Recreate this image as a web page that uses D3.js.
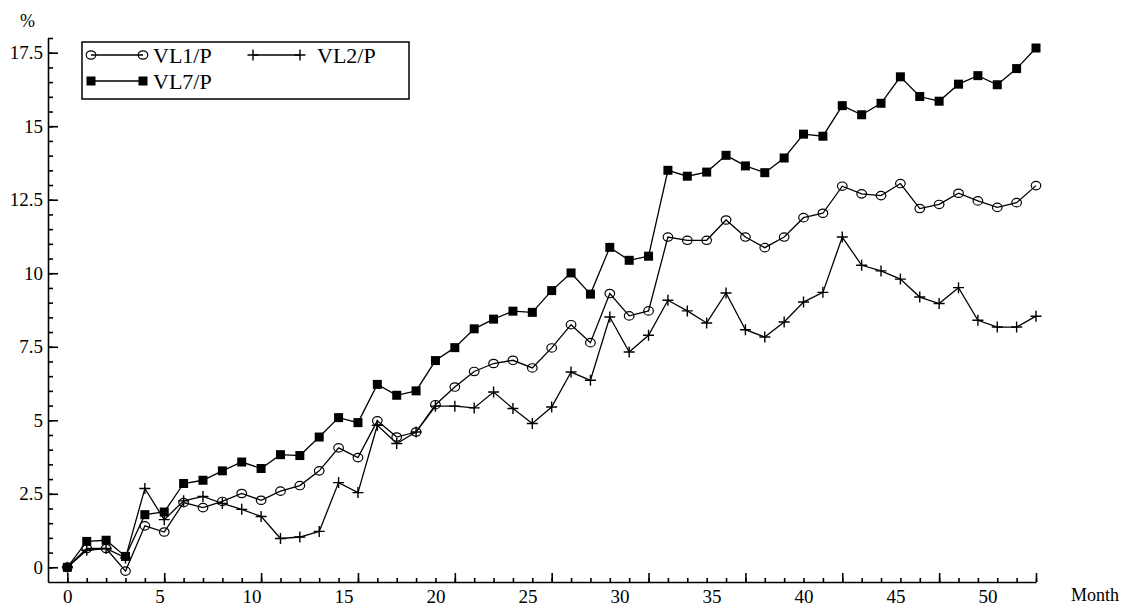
<!DOCTYPE html>
<html>
<head>
<meta charset="utf-8">
<script src="https://cdn.jsdelivr.net/npm/d3@7"></script>
<style>
  body { margin: 0; background: #fff; }
  text { font-family: "Liberation Serif", "Times New Roman", serif; }
</style>
</head>
<body>
<div id="chart"></div>
<script>
const monthLabels = [0, 5, 10, 15, 20, 25, 30, 35, 40, 45, 50];
const yTicks = [0, 2.5, 5, 7.5, 10, 12.5, 15, 17.5];
const lastMonth = 52.63; // month value at the last observation

const vl1 = [0, 0.64, 0.64, -0.13, 1.41, 1.20, 2.20, 2.03, 2.24, 2.51, 2.28, 2.59, 2.78, 3.28, 4.06, 3.73,
  4.98, 4.43, 4.60, 5.53, 6.13, 6.66, 6.93, 7.04, 6.78, 7.46, 8.25, 7.64, 9.31, 8.55, 8.72,
  11.23, 11.12, 11.12, 11.81, 11.23, 10.87, 11.23, 11.89, 12.04, 12.96, 12.70, 12.64, 13.05,
  12.20, 12.34, 12.72, 12.46, 12.24, 12.40, 12.98];
const vl2 = [0, 0.58, 0.64, 0.32, 2.68, 1.62, 2.26, 2.41, 2.17, 1.97, 1.73, 0.98, 1.03, 1.22, 2.88, 2.54,
  4.83, 4.21, 4.60, 5.48, 5.48, 5.42, 5.96, 5.40, 4.89, 5.45, 6.64, 6.36, 8.51, 7.32, 7.89,
  9.08, 8.72, 8.31, 9.33, 8.08, 7.83, 8.34, 9.02, 9.35, 11.23, 10.27, 10.08, 9.80,
  9.19, 8.97, 9.51, 8.40, 8.17, 8.17, 8.54];
const vl7 = [0, 0.88, 0.92, 0.37, 1.79, 1.88, 2.85, 2.96, 3.28, 3.58, 3.36, 3.83, 3.80, 4.43, 5.09, 4.92,
  6.22, 5.85, 6.00, 7.03, 7.47, 8.11, 8.44, 8.71, 8.67, 9.41, 10.01, 9.29, 10.88, 10.44, 10.58,
  13.50, 13.30, 13.44, 14.01, 13.65, 13.42, 13.92, 14.73, 14.66, 15.70, 15.39, 15.78, 16.68,
  16.01, 15.85, 16.43, 16.72, 16.41, 16.96, 17.66];

const series = [
  { name: "VL1/P", values: vl1, marker: "circle" },
  { name: "VL2/P", values: vl2, marker: "plus" },
  { name: "VL7/P", values: vl7, marker: "square" }
];

const W = 1123, H = 607;
const plot = { left: 48, right: 1036, top: 38, bottom: 582 };

const svg = d3.select("#chart").append("svg")
  .attr("width", W)
  .attr("height", H);

const xScale = d3.scaleLinear().domain([-1, 50]).range([plot.left, plot.right]);
const xMonth = d3.scaleLinear().domain([0, lastMonth]).range([xScale(0), xScale(50)]);
const yScale = d3.scaleLinear().domain([-0.5, 18]).range([plot.bottom, plot.top]);

// x axis: ticks on observations, labels in months
const xMinor = svg.append("g")
  .attr("transform", `translate(0,${plot.bottom})`)
  .call(d3.axisBottom(xScale).tickValues(d3.range(0, 51)).tickSize(-4).tickFormat(""));
xMinor.select(".domain").remove();

const xMajor = svg.append("g")
  .attr("transform", `translate(0,${plot.bottom})`)
  .call(d3.axisBottom(xScale).tickValues(d3.range(0, 51, 5)).tickSize(-9).tickSizeOuter(0).tickFormat(""));

const xLabels = svg.append("g")
  .attr("transform", `translate(0,${plot.bottom})`)
  .call(d3.axisBottom(xMonth).tickValues(monthLabels).tickSize(0).tickPadding(8));
xLabels.select(".domain").remove();

// y axis
const yMinor = svg.append("g")
  .attr("transform", `translate(${plot.left},0)`)
  .call(d3.axisLeft(yScale).tickValues(d3.range(0, 18.01, 0.5)).tickSize(-5).tickFormat(""));
yMinor.select(".domain").remove();

const yMajor = svg.append("g")
  .attr("transform", `translate(${plot.left},0)`)
  .call(d3.axisLeft(yScale).tickValues(yTicks).tickSize(-10).tickSizeOuter(0).tickPadding(5)
    .tickFormat(d3.format("")));

svg.selectAll(".tick text")
  .attr("font-family", "Liberation Serif, serif")
  .attr("font-size", "19px")
  .attr("fill", "#000");
svg.selectAll(".domain, .tick line")
  .attr("stroke", "#000")
  .attr("stroke-width", 1.6);

svg.append("text")
  .attr("x", 20).attr("y", 27)
  .attr("font-size", "18px")
  .text("%");

svg.append("text")
  .attr("x", 1071).attr("y", 601)
  .attr("font-size", "18px")
  .text("Month");

// lines and markers
const line = d3.line()
  .x((d, i) => xScale(i))
  .y(d => yScale(d));

function drawMarker(g, type, cx, cy) {
  if (type === "circle") {
    g.append("ellipse")
      .attr("cx", cx).attr("cy", cy)
      .attr("rx", 4.8).attr("ry", 4.2)
      .attr("fill", "none")
      .attr("stroke", "#000")
      .attr("stroke-width", 1.2);
  } else if (type === "square") {
    g.append("rect")
      .attr("x", cx - 4.5).attr("y", cy - 4.5)
      .attr("width", 9).attr("height", 9)
      .attr("fill", "#000");
  } else {
    g.append("path")
      .attr("d", `M${cx - 5.5},${cy}H${cx + 5.5}M${cx},${cy - 5.5}V${cy + 5.5}`)
      .attr("stroke", "#000")
      .attr("stroke-width", 1.4);
  }
}

series.forEach(s => {
  const g = svg.append("g");
  g.append("path")
    .attr("d", line(s.values))
    .attr("fill", "none")
    .attr("stroke", "#000")
    .attr("stroke-width", 1.3);
  s.values.forEach((v, i) => drawMarker(g, s.marker, xScale(i), yScale(v)));
});

// legend
const legend = svg.append("g");
legend.append("rect")
  .attr("x", 82).attr("y", 42)
  .attr("width", 327).attr("height", 57)
  .attr("fill", "#fff")
  .attr("stroke", "#000")
  .attr("stroke-width", 1.5);

const legendPos = [
  { x0: 91, x1: 143, y: 55, tx: 153 },
  { x0: 253, x1: 300, y: 55, tx: 317 },
  { x0: 91, x1: 143, y: 81, tx: 153 }
];

series.forEach((s, i) => {
  const p = legendPos[i];
  legend.append("line")
    .attr("x1", p.x0).attr("x2", p.x1)
    .attr("y1", p.y).attr("y2", p.y)
    .attr("stroke", "#000")
    .attr("stroke-width", 1.3);
  drawMarker(legend, s.marker, p.x0, p.y);
  drawMarker(legend, s.marker, p.x1, p.y);
  legend.append("text")
    .attr("x", p.tx).attr("y", p.y + 8)
    .attr("font-size", "22px")
    .text(s.name);
});
</script>
</body>
</html>
